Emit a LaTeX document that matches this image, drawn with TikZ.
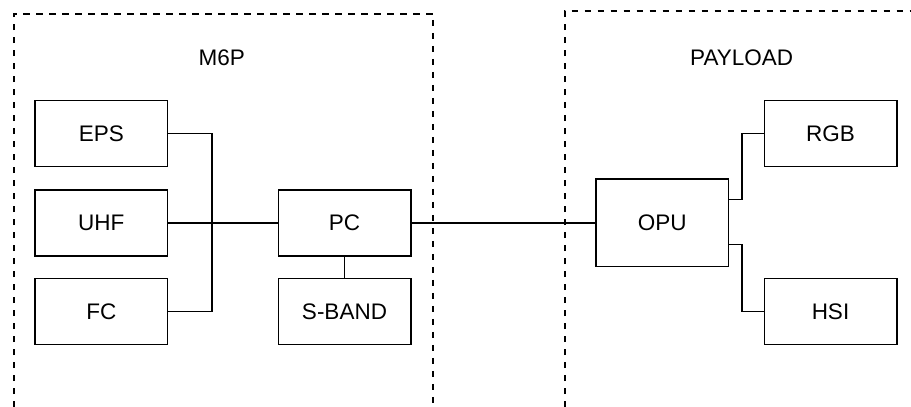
\documentclass[tikz,border=0pt]{standalone}
\usepackage{fontspec}
\setmainfont{Liberation Sans}
\usetikzlibrary{calc}
\begin{document}
\begin{tikzpicture}[x=1pt,y=-1pt,
  blk/.style={draw, line width=1.5pt, minimum width=132.5pt, minimum height=66pt,
    inner sep=0pt, font=\fontsize{22.5}{27}\selectfont},
  grp/.style={draw, line width=2pt, dash pattern=on 6.5pt off 6.5pt},
  title/.style={font=\fontsize{22.5}{27}\selectfont},
  wire/.style={line width=1.5pt}]
\useasboundingbox (0,0) rectangle (911,407);
\clip (0,0) rectangle (911,407);

% subsystem groups (open at the bottom / right edge)
\draw[grp] (13.5,420) -- (13.5,13.5) -- (432.7,13.5) -- (432.7,420);
\draw[grp] (565,420) -- (565,10.5) -- (930,10.5);
\node[title] (m6p) at (221.7,58) {M6P};
\node[title] (payload) at (741.7,58) {PAYLOAD};

% M6P blocks
\node[blk] (eps)   at (101.3,133.7) {EPS};
\node[blk] (uhf)   at (101.3,222.8) {UHF};
\node[blk] (fc)    at (101.3,311.3) {FC};
\node[blk] (pc)    at (344.5,222.8) {PC};
\node[blk] (sband) at (344.5,311.3) {S-BAND};

% payload blocks
\node[blk, minimum height=87.7pt] (opu) at (662.3,222.8) {OPU};
\node[blk] (rgb) at (830.5,133.7) {RGB};
\node[blk] (hsi) at (830.5,311.3) {HSI};

% bus joining EPS, UHF and FC to PC
\coordinate (bt) at (212,133.7);
\coordinate (bb) at (212,311.3);
\draw[wire] (eps.east) -- (bt) -- (bb) -- (fc.east);
\draw[wire] (uhf.east) -- (pc.west);
\draw[wire] (pc.south) -- (sband.north);
\draw[wire] (pc.east) -- (opu.west);

% OPU to the two cameras
\coordinate (o1) at ($(opu.north east)!0.24!(opu.south east)$);
\coordinate (o2) at ($(opu.north east)!0.745!(opu.south east)$);
\draw[wire] (o1) -- (742,0 |- o1) |- (rgb.west);
\draw[wire] (o2) -- (742,0 |- o2) |- (hsi.west);
\end{tikzpicture}
\end{document}
